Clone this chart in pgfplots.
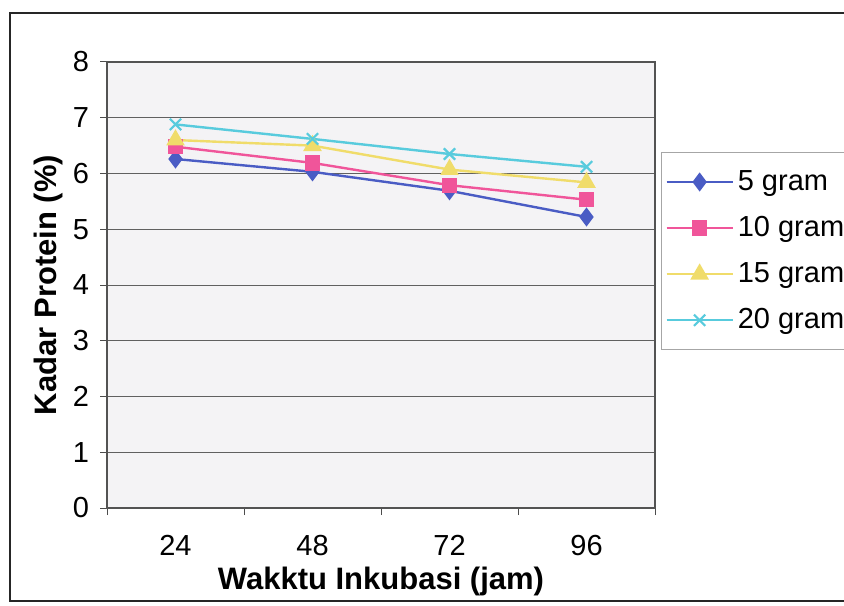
\documentclass[border=0pt]{standalone}
\usepackage{pgfplots}
\pgfplotsset{compat=1.18}
\usepackage{fontspec}
\setmainfont{Liberation Sans}
\definecolor{cblue}{HTML}{4A5CC4}
\definecolor{cpink}{HTML}{F0559A}
\definecolor{cyell}{HTML}{F0DC6A}
\definecolor{ccyan}{HTML}{58CBDD}
\definecolor{bgplot}{HTML}{F4F3F5}
\begin{document}
\begin{tikzpicture}
\useasboundingbox (0,0) rectangle (422pt,302.5pt);
\clip (0,0) rectangle (422pt,302.5pt);
\fill[white] (0,0) rectangle (422pt,302.5pt);
\draw[line width=1pt, black!85] (5pt,2pt) rectangle (440pt,296pt);
\begin{axis}[
  at={(53.5pt,48.5pt)}, anchor=south west,
  width=274pt, height=223pt, scale only axis,
  xmin=-0.5, xmax=3.5, ymin=0, ymax=8,
  /pgf/number format/assume math mode=true,
  xtick={-0.5,0.5,1.5,2.5,3.5}, xticklabels={,,,,,},
  extra x ticks={0,1,2,3}, extra x tick labels={24,48,72,96},
  extra x tick style={major tick length=0pt, grid=none,
     xticklabel style={yshift=-10pt}},
  xtick pos=bottom, ytick pos=left,
  ytick={0,1,...,8},
  ymajorgrids,
  grid style={gray!75!black, line width=0.5pt},
  tick align=outside, major tick length=3.5pt,
  tick style={gray!60!black, line width=0.5pt},
  axis line style={gray!65!black, line width=0.6pt},
  axis background/.style={fill=bgplot},
  every tick label/.append style={font=\fontsize{14.5}{17}\selectfont},
  yticklabel style={xshift=-2pt},
  xlabel={\textbf{Wakktu Inkubasi (jam)}},
  ylabel={\textbf{Kadar Protein (\%)}},
  xlabel style={font=\fontsize{15.5}{18}\selectfont, yshift=4.5pt},
  ylabel style={font=\fontsize{15.5}{18}\selectfont, yshift=-2pt},
  legend style={at={(1.011,0.798)}, anchor=north west, draw=gray!70,
     fill=white, font=\fontsize{14.5}{17}\selectfont, row sep=7.5pt,
     inner xsep=2pt, inner ysep=7pt},
  legend cell align=left,
  legend image code/.code={\draw[mark repeat=2,mark phase=2,#1]
     plot coordinates {(0pt,0pt)(16.5pt,0pt)(33pt,0pt)};},
]
\addplot[color=cblue, line width=1.2pt, mark=diamond*, mark size=3.8pt,
  mark options={fill=cblue}] coordinates {(0,6.26)(1,6.03)(2,5.69)(3,5.22)};
\addlegendentry{5 gram}
\addplot[color=cpink, line width=1.2pt, mark=square*, mark size=3.2pt,
  mark options={fill=cpink}] coordinates {(0,6.48)(1,6.19)(2,5.79)(3,5.53)};
\addlegendentry{10 gram}
\addplot[color=cyell, line width=1.2pt, mark=triangle*, mark size=4.2pt,
  mark options={fill=cyell}] coordinates {(0,6.60)(1,6.50)(2,6.07)(3,5.84)};
\addlegendentry{15 gram}
\addplot[color=ccyan, line width=1.2pt, mark=x, mark size=4pt,
  mark options={line width=1.1pt}] coordinates {(0,6.88)(1,6.62)(2,6.35)(3,6.12)};
\addlegendentry{20 gram}
\end{axis}
\end{tikzpicture}
\end{document}
